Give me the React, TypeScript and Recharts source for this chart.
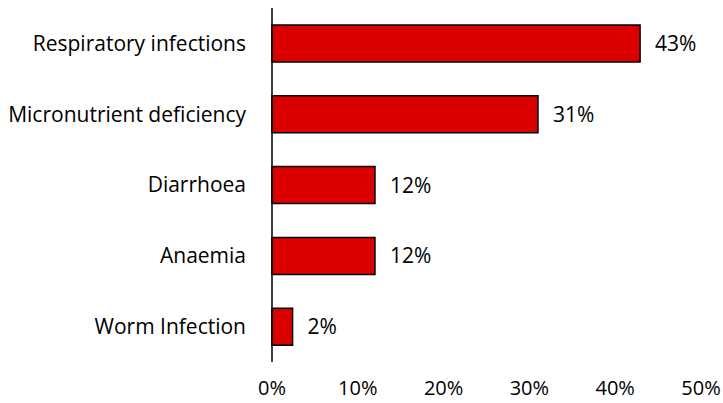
import { BarChart, Bar, XAxis, YAxis, LabelList } from "recharts";

const categories = [
  "Respiratory infections",
  "Micronutrient deficiency",
  "Diarrhoea",
  "Anaemia",
  "Worm Infection",
];
const shares = [42.9, 31, 12, 12, 2.4];
const shareLabels = ["43%", "31%", "12%", "12%", "2%"];
const xTicks = [0, 10, 20, 30, 40, 50];

const FONT = "'Open Sans', sans-serif";
const FS = 21;

export default function App() {
  const data = categories.map((name, i) => ({
    name,
    value: shares[i],
    label: shareLabels[i],
  }));

  return (
    <div style={{ position: "absolute", left: 0, top: 0, fontFamily: FONT }}>
      <BarChart
        width={723}
        height={403}
        data={data}
        layout="vertical"
        margin={{ top: 8, right: 22, bottom: 0, left: 0 }}
        barCategoryGap="24%"
      >
        <XAxis
          type="number"
          domain={[0, 50]}
          ticks={xTicks}
          tickFormatter={(v) => `${v}%`}
          axisLine={false}
          tickLine={false}
          tickSize={0}
          tickMargin={19}
          height={41}
          tick={{ fill: "#000", fontSize: 20, fontFamily: FONT }}
        />
        <YAxis
          type="category"
          dataKey="name"
          width={272}
          axisLine={{ stroke: "#000", strokeWidth: 1.5 }}
          tickLine={false}
          tickSize={0}
          tickMargin={26}
          tick={{ fill: "#000", fontSize: FS, fontFamily: FONT }}
        />
        <Bar
          dataKey="value"
          fill="#DA0000"
          stroke="#000"
          strokeWidth={1.5}
          isAnimationActive={false}
        >
          <LabelList
            dataKey="label"
            position="right"
            offset={15}
            fill="#000"
            fontSize={FS}
            fontFamily={FONT}
          />
        </Bar>
      </BarChart>
    </div>
  );
}
